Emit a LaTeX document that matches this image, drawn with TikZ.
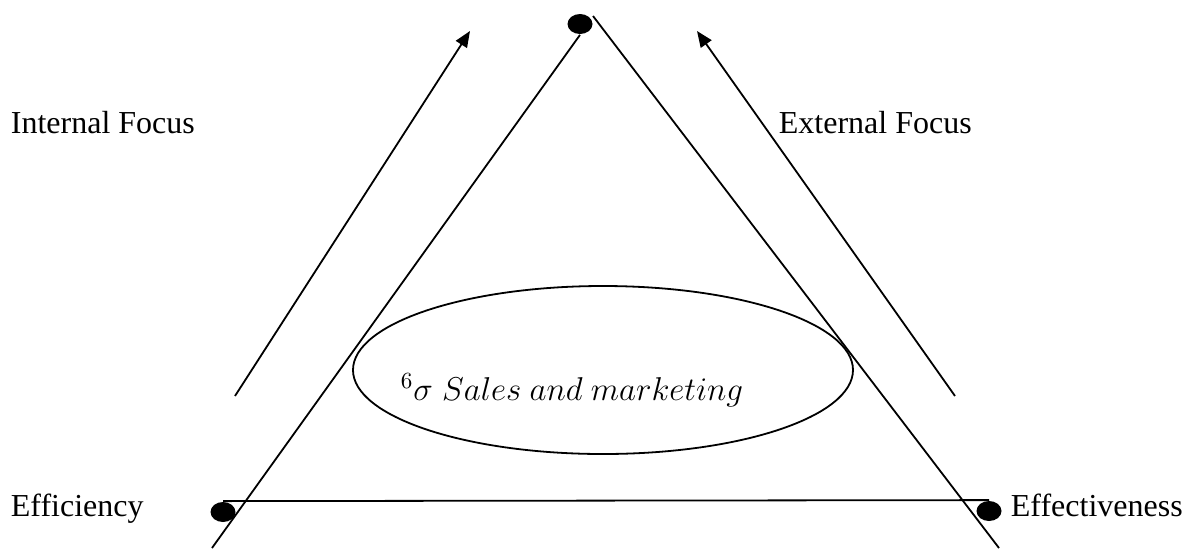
\RequirePackage{fix-cm}
\documentclass[tikz,border=0pt]{standalone}
\usepackage{fontspec}
\setmainfont{Liberation Serif}
\usepackage{amsmath}
\usetikzlibrary{shapes.geometric,arrows.meta}

\begin{document}
\begin{tikzpicture}[x=0.5pt, y=-0.5pt, line width=0.9pt,
	dot/.style={ellipse, fill=black, inner sep=0pt, minimum width=12.5pt, minimum height=10pt},
	lbl/.style={anchor=base west, inner sep=0pt, font=\fontsize{16}{19}\selectfont},
	push/.style={-{Triangle[length=8pt,width=6.5pt]}}]
	\useasboundingbox (0,0) rectangle (1185,548);
	% corner dots
	\node[dot] (apex) at (580,24)  {};
	\node[dot] (effi) at (223,512) {};
	\node[dot] (effe) at (989,511) {};
	% free ends of the sides and arrows
	\coordinate (lbot) at (212,548);
	\coordinate (rtop) at (593,16);
	\coordinate (rbot) at (999,548);
	\coordinate (ia) at (235,396);
	\coordinate (ib) at (470,31);
	\coordinate (ea) at (955,396);
	\coordinate (eb) at (697,31);
	% labels
	\node[lbl] (inf) at (10,133)   {Internal Focus};
	\node[lbl] (exf) at (778,133)  {External Focus};
	\node[lbl] (efy) at (10,516)   {Efficiency};
	\node[lbl] (efs) at (1010,516) {Effectiveness};
	% centre
	\node[ellipse, draw, minimum width=250pt, minimum height=84pt] (core) at (603,370) {};
	\node[lbl, font=\fontsize{16.5}{20}\selectfont] (sm) at (400,400) {$^{6}\sigma\; Sales\ and\ marketing$};
	\draw (apex.south) -- (lbot);
	\draw (rtop) -- (rbot);
	\draw (effi.north) -- (effe.north);
	\foreach \from/\to in {ia/ib, ea/eb}
	\draw[push] (\from) -- (\to);
\end{tikzpicture}
\end{document}
